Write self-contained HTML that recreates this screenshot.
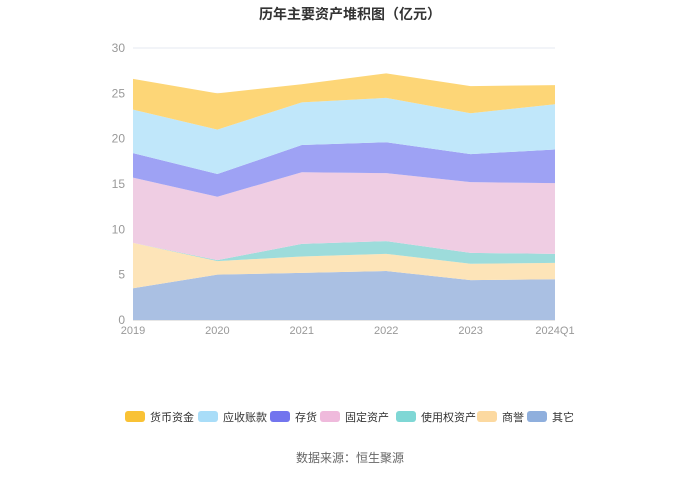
<!DOCTYPE html>
<html><head><meta charset="utf-8"><style>
body{margin:0;width:700px;height:473px;background:#fff;font-family:"Liberation Sans","Noto Sans CJK SC",sans-serif;overflow:hidden}
</style></head><body>
<svg id="chart" width="700" height="473" xmlns="http://www.w3.org/2000/svg">
<text x="350" y="19" text-anchor="middle" font-size="14" font-weight="bold" fill="#333" font-family="Liberation Sans, Noto Sans CJK SC, sans-serif">历年主要资产堆积图（亿元）</text>
<g id="grid"></g><g id="areas"></g><g id="axes"></g><g id="legend"></g>
<text x="350" y="462" text-anchor="middle" font-size="12" fill="#666" font-family="Liberation Sans, Noto Sans CJK SC, sans-serif">数据来源：恒生聚源</text>
</svg>
<script>
const categories=["2019","2020","2021","2022","2023","2024Q1"];
const seriesNames=["货币资金","应收账款","存货","固定资产","使用权资产","商誉","其它"];
const cash=[3.4,4.0,2.0,2.7,3.0,2.1];
const receivables=[4.8,4.9,4.7,4.9,4.5,5.0];
const inventory=[2.7,2.5,3.0,3.4,3.1,3.7];
const fixedAssets=[7.2,7.0,7.9,7.5,7.8,7.8];
const rightOfUse=[0.0,0.1,1.4,1.4,1.2,1.0];
const goodwill=[5.0,1.5,1.8,1.9,1.8,1.8];
const other=[3.5,5.0,5.2,5.4,4.4,4.5];
const yTicks=[0,5,10,15,20,25,30];
const NS="http://www.w3.org/2000/svg";
const x0=133,x1=555,yb=320,yt=48,ymax=30;
const xs=i=>x0+(x1-x0)*i/(categories.length-1);
const ys=v=>yb-(yb-yt)*v/ymax;
function mk(t,a,p){const e=document.createElementNS(NS,t);for(const k in a)e.setAttribute(k,a[k]);p.appendChild(e);return e;}
const grid=document.getElementById('grid'),axes=document.getElementById('axes'),areas=document.getElementById('areas'),legend=document.getElementById('legend');
yTicks.forEach(t=>{
 const l=mk('line',{x1:x0,x2:x1,y1:ys(t),y2:ys(t),stroke:t===0?'#ccc':'#e6e9f0'},grid);
 
 
 const tx=mk('text',{x:x0-8,y:ys(t)+4,'text-anchor':'end','font-size':12,fill:'#999'},axes);tx.textContent=t;
 
 
});
categories.forEach((c,i)=>{
 const tx=mk('text',{x:xs(i),y:yb+14,'text-anchor':'middle','font-size':11,fill:'#999'},axes);tx.textContent=c;
 
 
});
const bottomUp=[other,goodwill,rightOfUse,fixedAssets,inventory,receivables,cash];
const fills=["#aac0e3","#fde4b8","#9ddcdb","#efcde3","#9ea2f4","#c0e7fa","#fdd677"];
const legendColors=["#f9c235","#a9ddf8","#7375ee","#efbadc","#7fd7d5","#fcd9a0","#8fafdd"];
const names=["其它","商誉","使用权资产","固定资产","存货","应收账款","货币资金"];
let base=categories.map(()=>0);
bottomUp.forEach((s,k)=>{
 const top=base.map((b,i)=>b+s[i]);
 let d='M'+top.map((v,i)=>xs(i)+','+ys(v)).join('L');
 for(let i=categories.length-1;i>=0;i--)d+='L'+xs(i)+','+ys(base[i]);
 const p=mk('path',{d:d+'Z',fill:fills[k]},areas);
 
 
 base=top;
});
const lx=[125,198,270,320,396,477,527];
seriesNames.forEach((n,i)=>{
 const g=mk('g',{},legend);
 
 
 mk('rect',{x:lx[i],y:411,width:20,height:11,rx:3,fill:legendColors[i]},g);
 const t=mk('text',{x:lx[i]+25,y:421,'font-size':11,fill:'#333'},g);t.textContent=n;
});
</script>
</body></html>
